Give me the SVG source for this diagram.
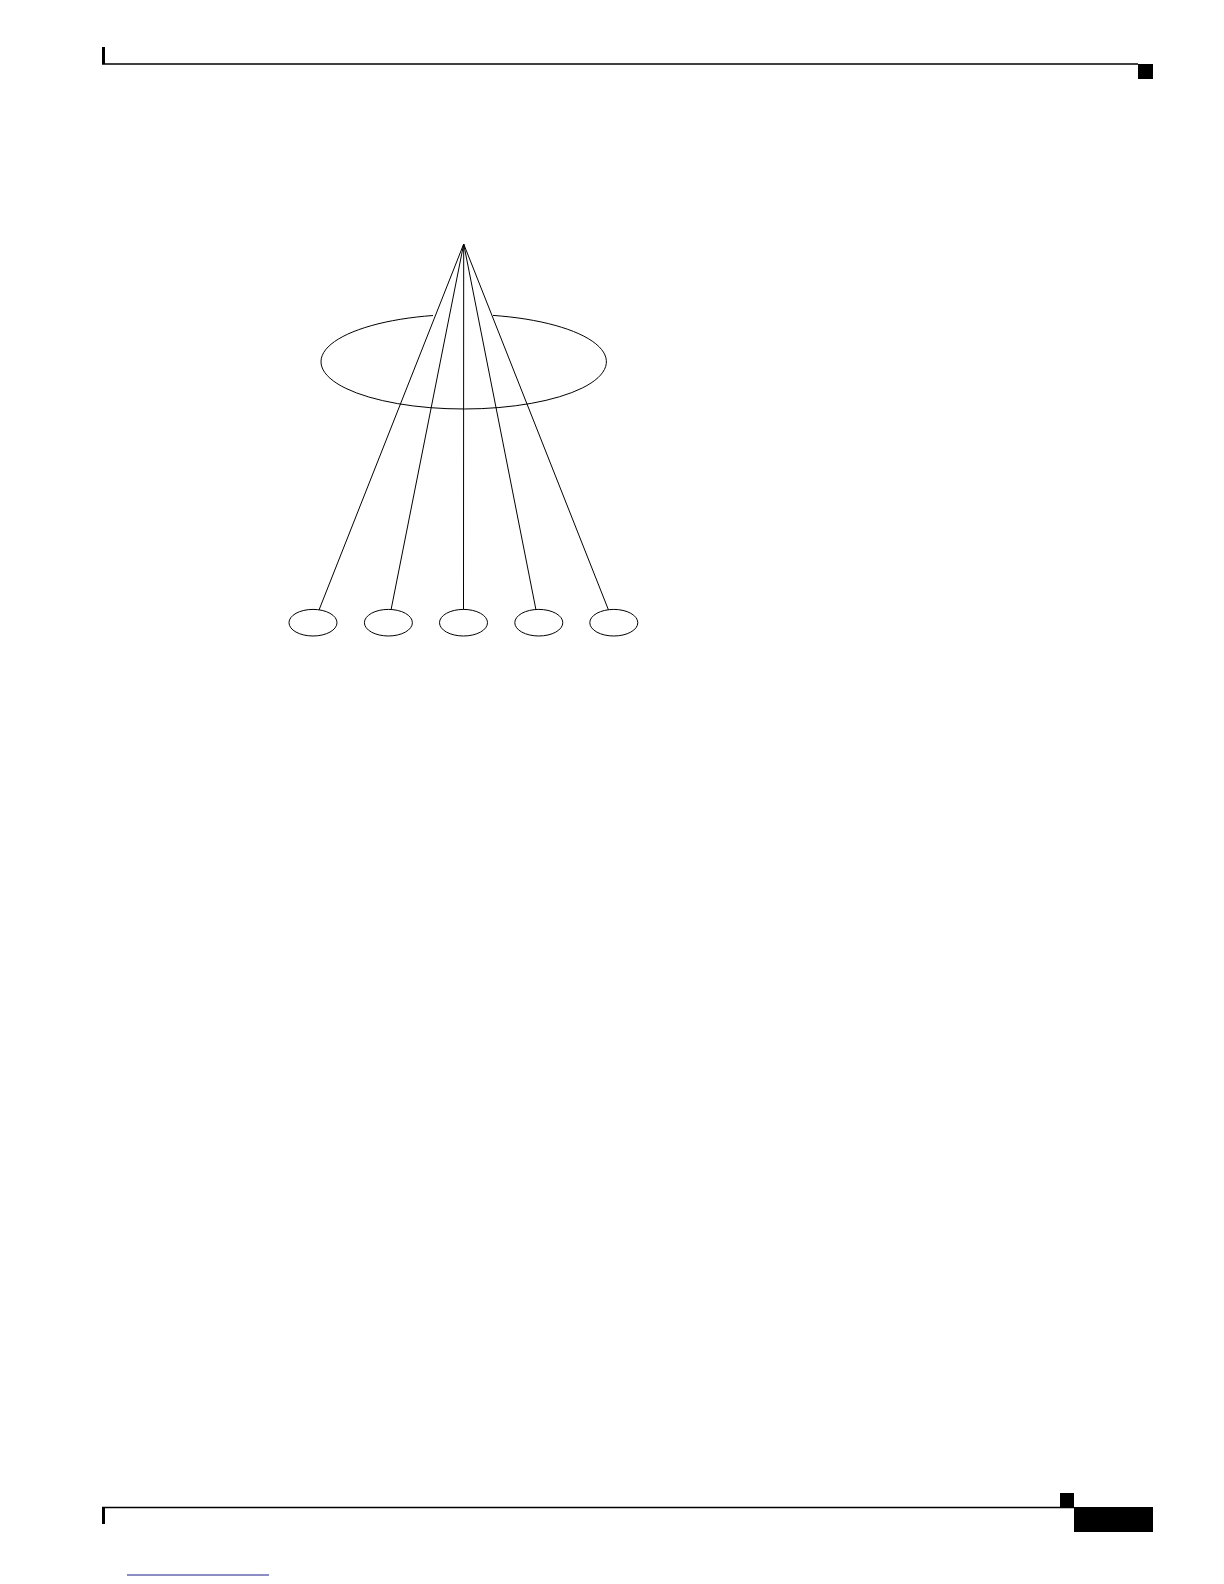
<svg xmlns="http://www.w3.org/2000/svg" width="1224" height="1584" viewBox="0 0 1224 1584">
  <style>
    .ln { stroke: #000; stroke-width: 1; fill: none; }
    .nd { stroke: #000; stroke-width: 1; fill: #fff; }
    .blk { fill: #000; stroke: none; }
  </style>
  <rect width="1224" height="1584" fill="#fff"/>
  <g id="page-header">
    <rect class="blk" x="102" y="47" width="3" height="17"/>
    <line x1="102" y1="64" x2="1138" y2="64" stroke="#000" stroke-width="1.4"/>
    <rect class="blk" x="1138" y="64" width="15" height="15"/>
  </g>
  <g id="page-footer">
    <rect class="blk" x="102" y="1507" width="3" height="17"/>
    <line x1="102" y1="1507.5" x2="1074" y2="1507.5" stroke="#000" stroke-width="1.4"/>
    <rect class="blk" x="1060" y="1493" width="14" height="14"/>
    <rect class="blk" x="1074" y="1507" width="79" height="25"/>
    <line x1="127" y1="1575" x2="269" y2="1575" stroke="#1a1a8c" stroke-width="1"/>
  </g>
  <g id="ring">
    <path class="ln" d="M 493,315.4 A 142.7 47.3 0 1 1 433,315.5"/>
  </g>
  <g id="connectors">
    <line class="ln" x1="463.7" y1="244" x2="319" y2="610"/>
    <line class="ln" x1="463.7" y1="244" x2="391" y2="610"/>
    <line class="ln" x1="463.7" y1="244" x2="463.5" y2="610"/>
    <line class="ln" x1="463.7" y1="244" x2="536" y2="610"/>
    <line class="ln" x1="463.7" y1="244" x2="608.5" y2="610"/>
  </g>
  <g id="node1"><ellipse class="nd" cx="313" cy="622.7" rx="24" ry="13.3"/></g>
  <g id="node2"><ellipse class="nd" cx="388.4" cy="622.7" rx="24" ry="13.3"/></g>
  <g id="node3"><ellipse class="nd" cx="463.5" cy="622.7" rx="24" ry="13.3"/></g>
  <g id="node4"><ellipse class="nd" cx="538.8" cy="622.7" rx="24" ry="13.3"/></g>
  <g id="node5"><ellipse class="nd" cx="613.8" cy="622.7" rx="24" ry="13.3"/></g>
</svg>
